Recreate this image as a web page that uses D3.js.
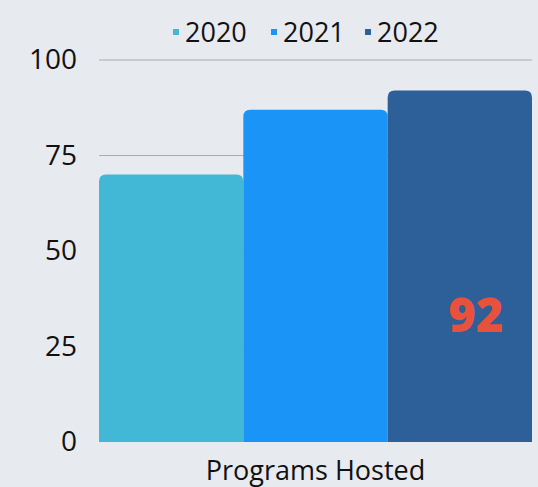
<!DOCTYPE html>
<html><head><meta charset="utf-8">
<script src="https://cdn.jsdelivr.net/npm/d3@7"></script>
<style>body{margin:0;background:#e7eaef;}svg{display:block;font-family:"Open Sans",sans-serif;}</style>
</head><body><svg id="c" width="538" height="487"></svg>
<script>
const categories = ["Programs Hosted"];
const seriesNames = ["2020", "2021", "2022"];
const values2020 = [70];
const values2021 = [87];
const values2022 = [92];
const yTicks = [0, 25, 50, 75, 100];
const colors = ["#42b8d6", "#1a94f7", "#2d5f99"];
const highlightLabel = "92";

const svg = d3.select("#c");
const W = 538, H = 487;
const m = {l: 99, r: 6, t: 60, b: 45};
svg.append("rect").attr("width", W).attr("height", H).attr("fill", "#e7eaef");

const y = d3.scaleLinear().domain([0, 100]).range([H - m.b, m.t]);
const x0 = d3.scaleBand().domain(categories).range([m.l, W - m.r]).padding(0);
const x1 = d3.scaleBand().domain(seriesNames).range([0, x0.bandwidth()]).padding(0);

// grid
svg.append("g").selectAll("line").data(yTicks.filter(d => d > 0)).join("line")
  .attr("x1", m.l).attr("x2", W - m.r)
  .attr("y1", d => y(d)).attr("y2", d => y(d))
  .attr("stroke", "#a9acb1").attr("stroke-width", 1);

// y axis labels
const yAxis = d3.axisLeft(y).tickValues(yTicks).tickSize(0).tickPadding(22);
const ya = svg.append("g").attr("transform", `translate(${m.l},0)`).call(yAxis);
ya.select(".domain").remove();
ya.selectAll("text").attr("font-size", 28).attr("fill", "#111").attr("font-family", "Open Sans");

const data = [values2020, values2021, values2022];
const r = 7;
function barPath(x, w, y0, y1) {
  const rr = Math.min(r, (y0 - y1));
  return `M${x},${y0}V${y1 + rr}Q${x},${y1} ${x + rr},${y1}H${x + w - rr}Q${x + w},${y1} ${x + w},${y1 + rr}V${y0}Z`;
}
categories.forEach((c, ci) => {
  seriesNames.forEach((s, si) => {
    const v = data[si][ci];
    const bx = x0(c) + x1(s);
    svg.append("path")
      .attr("d", barPath(bx, x1.bandwidth(), y(0), y(v)))
      .attr("fill", colors[si]);
  });
});

// highlight label on 2022 bar
const bx3 = x0(categories[0]) + x1("2022");
svg.append("text")
  .attr("x", bx3 + x1.bandwidth() / 2 + 16)
  .attr("y", 332)
  .attr("text-anchor", "middle")
  .attr("font-size", 47).attr("font-weight", 800)
  .attr("font-family", "Open Sans")
  .attr("fill", "#e8513b").text(highlightLabel);

// x axis label
const xAxis = d3.axisBottom(x0).tickSize(0).tickPadding(19);
const xa = svg.append("g").attr("transform", `translate(0,${y(0)})`).call(xAxis);
xa.select(".domain").remove();
xa.selectAll("text").attr("font-size", 27).attr("fill", "#111").attr("font-family", "Open Sans");

// legend
const legendX = [173, 271, 365];
const lg = svg.append("g");
seriesNames.forEach((s, i) => {
  lg.append("rect").attr("x", legendX[i]).attr("y", 29).attr("width", 6).attr("height", 6).attr("fill", colors[i]);
  lg.append("text").attr("x", legendX[i] + 12).attr("y", 42).attr("font-size", 27)
    .attr("fill", "#111").text(s);
});
</script></body></html>
